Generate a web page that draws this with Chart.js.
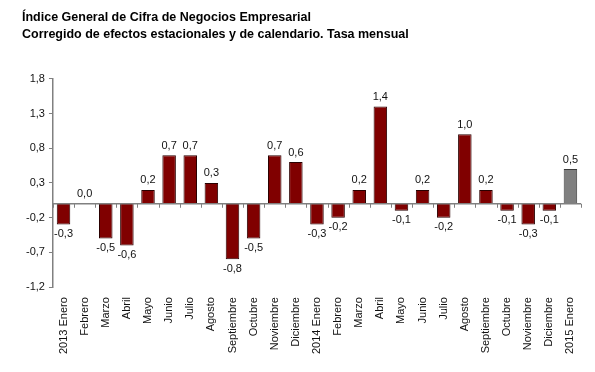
<!DOCTYPE html>
<html>
<head>
<meta charset="utf-8">
<script src="https://cdn.jsdelivr.net/npm/chart.js@4/dist/chart.umd.min.js"></script>
<style>
  html, body { margin: 0; padding: 0; background: #fff; }
  #wrap { width: 595px; height: 372px; position: relative; }
</style>
</head>
<body>
<div id="wrap"><canvas id="bar_chart"></canvas></div>
<script>
var months = ['2013 Enero', 'Febrero', 'Marzo', 'Abril', 'Mayo', 'Junio', 'Julio', 'Agosto',
  'Septiembre', 'Octubre', 'Noviembre', 'Diciembre', '2014 Enero', 'Febrero', 'Marzo', 'Abril',
  'Mayo', 'Junio', 'Julio', 'Agosto', 'Septiembre', 'Octubre', 'Noviembre', 'Diciembre', '2015 Enero'];
var tasa = [-0.3, 0.0, -0.5, -0.6, 0.2, 0.7, 0.7, 0.3, -0.8, -0.5, 0.7, 0.6, -0.3, -0.2, 0.2, 1.4,
  -0.1, 0.2, -0.2, 1.0, 0.2, -0.1, -0.3, -0.1, 0.5];
var yTicks = [-1.2, -0.7, -0.2, 0.3, 0.8, 1.3, 1.8];

function fmt(v) {
  return v.toFixed(1).replace('.', ',');
}

var barColors = [];
var borderColors = [];
for (var i = 0; i < tasa.length; i++) {
  if (i == tasa.length - 1) {
    barColors.push('#808080');
    borderColors.push('#3a3a3a');
  } else {
    barColors.push('#800000');
    borderColors.push('#2a0000');
  }
}

// zero line with small ticks + value labels
var extras = {
  id: 'extras',
  afterDatasetsDraw: function(chart) {
    var ctx = chart.ctx;
    var x = chart.scales.x, y = chart.scales.y;
    var y0 = y.getPixelForValue(0);
    ctx.save();
    ctx.strokeStyle = '#808080';
    ctx.lineWidth = 1.5;
    ctx.beginPath();
    ctx.moveTo(chart.chartArea.left, y0);
    ctx.lineTo(chart.chartArea.right, y0);
    ctx.stroke();
    ctx.lineWidth = 1;
    var half = (x.getPixelForValue(1) - x.getPixelForValue(0)) / 2;
    for (var i = 0; i <= months.length; i++) {
      var px = Math.round(x.getPixelForValue(i) - half) + 0.5;
      ctx.beginPath();
      ctx.moveTo(px, y0);
      ctx.lineTo(px, y0 + 4);
      ctx.stroke();
    }
    ctx.fillStyle = '#111';
    ctx.font = '11px "Liberation Sans", Arial, sans-serif';
    ctx.textAlign = 'center';
    chart.getDatasetMeta(0).data.forEach(function(bar, i) {
      var v = tasa[i];
      if (v >= 0) {
        ctx.textBaseline = 'bottom';
        ctx.fillText(fmt(v), bar.x, bar.y - 4);
      } else {
        ctx.textBaseline = 'top';
        ctx.fillText(fmt(v), bar.x, bar.y + 4);
      }
    });
    ctx.restore();
  }
};

var chart = new Chart(document.getElementById('bar_chart').getContext('2d'), {
  type: 'bar',
  data: {
    labels: months,
    datasets: [{
      label: 'Tasa mensual',
      data: tasa,
      backgroundColor: barColors,
      borderColor: borderColors,
      borderWidth: 1,
      categoryPercentage: 0.64,
      barPercentage: 1
    }]
  },
  options: {
    responsive: true,
    maintainAspectRatio: false,
    animation: false,
    layout: { padding: { left: 22, right: 14, top: 5, bottom: 16 } },
    plugins: {
      legend: { display: false },
      tooltip: { enabled: false },
      title: {
        display: true,
        text: ['Índice General de Cifra de Negocios Empresarial',
               'Corregido de efectos estacionales y de calendario. Tasa mensual'],
        align: 'start',
        color: '#000',
        font: { family: '"Liberation Sans", Arial, sans-serif', size: 12.5, weight: 'bold', lineHeight: 1.35 },
        padding: { top: 4, bottom: 36 }
      }
    },
    scales: {
      x: {
        grid: { display: false },
        border: { display: false },
        ticks: {
          autoSkip: false,
          maxRotation: 90,
          minRotation: 90,
          padding: 2,
          color: '#111',
          font: { family: '"Liberation Sans", Arial, sans-serif', size: 11 }
        }
      },
      y: {
        min: -1.2,
        max: 1.8,
        afterBuildTicks: function(axis) {
          axis.ticks = yTicks.map(function(v) { return { value: v }; });
        },
        grid: { drawOnChartArea: false, color: '#808080', tickLength: 4 },
        border: { color: '#808080', width: 1.5 },
        ticks: {
          padding: 4,
          color: '#111',
          font: { family: '"Liberation Sans", Arial, sans-serif', size: 11 },
          callback: function(v) { return fmt(v); }
        }
      }
    }
  },
  plugins: [extras]
});
</script>
</body>
</html>
